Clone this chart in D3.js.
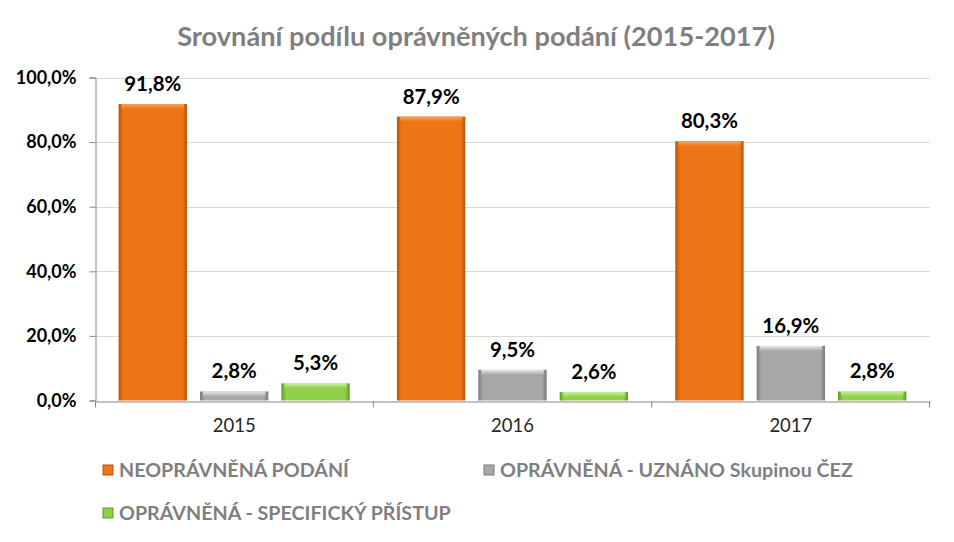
<!DOCTYPE html>
<html><head><meta charset="utf-8">
<script src="https://cdn.jsdelivr.net/npm/d3@7"></script>
<style>body{margin:0;background:#fff}svg{display:block}</style>
</head><body>
<svg id="c" width="954" height="542"></svg>
<script>
const title = "Srovnání podílu oprávněných podání (2015-2017)";
const years = ["2015", "2016", "2017"];
const seriesNames = ["NEOPRÁVNĚNÁ PODÁNÍ", "OPRÁVNĚNÁ - UZNÁNO Skupinou ČEZ", "OPRÁVNĚNÁ - SPECIFICKÝ PŘÍSTUP"];
const neopravnena = [91.8, 87.9, 80.3];
const uznano = [2.8, 9.5, 16.9];
const specificky = [5.3, 2.6, 2.8];
const yTicks = [0, 20, 40, 60, 80, 100];
const colors = [
  {base:"#ef7616", dark:"#b85408", light:"#f9a55e"},
  {base:"#a8a8a8", dark:"#7a7a7a", light:"#e8e8e8"},
  {base:"#8fd14a", dark:"#5e9c22", light:"#c8ef9c"}
];
const seriesValues = [neopravnena, uznano, specificky];

const svg = d3.select("#c");
const fmt = v => v.toFixed(1).replace(".", ",");
const font = "Lato, 'Open Sans', sans-serif";

const x0 = d3.scaleBand().domain(years).range([95, 930]).paddingInner(0).paddingOuter(0);
const x1 = d3.scaleBand().domain([0,1,2]).range([0, x0.bandwidth()]).paddingInner(0.16).paddingOuter(0.29);
const y = d3.scaleLinear().domain([0, 100]).range([400.5, 77.5]);

// defs gradients
const defs = svg.append("defs");
colors.forEach((c, i) => {
  const g = defs.append("linearGradient").attr("id", "gh" + i).attr("x1", 0).attr("x2", 1).attr("y1", 0).attr("y2", 0);
  g.append("stop").attr("offset", "0%").attr("stop-color", c.dark);
  g.append("stop").attr("offset", "7%").attr("stop-color", c.base);
  g.append("stop").attr("offset", "93%").attr("stop-color", c.base);
  g.append("stop").attr("offset", "100%").attr("stop-color", c.dark);
  const t = defs.append("linearGradient").attr("id", "gt" + i).attr("x1", 0).attr("x2", 0).attr("y1", 0).attr("y2", 1);
  t.append("stop").attr("offset", "0%").attr("stop-color", c.light);
  t.append("stop").attr("offset", "100%").attr("stop-color", c.base);
});

// title
svg.append("text").attr("x", 476).attr("y", 46).attr("text-anchor", "middle")
  .attr("font-family", font).attr("font-weight", "bold").attr("font-size", 27.2)
  .attr("fill", "#7f7f7f").text(title);

// gridlines
svg.append("g").selectAll("line").data(yTicks.filter(d => d > 0)).join("line")
  .attr("x1", 95).attr("x2", 930).attr("y1", d => Math.round(y(d)) + 0.5).attr("y2", d => Math.round(y(d)) + 0.5)
  .attr("stroke", "#d9d9d9").attr("stroke-width", 1);

// y axis
const yAxis = svg.append("g").attr("transform", "translate(95.5,0)")
  .call(d3.axisLeft(y).tickValues(yTicks).tickSize(6).tickFormat(d => fmt(d) + "%"));
yAxis.select(".domain").attr("stroke", "#868686");
yAxis.selectAll(".tick line").attr("stroke", "#868686");
yAxis.selectAll("text").attr("font-family", font).attr("font-weight", "bold").attr("font-size", 18)
  .attr("fill", "#000").attr("x", -19);

// x axis
const xAxis = svg.append("g").attr("transform", "translate(0," + (Math.round(y(0)) + 0.5) + ")")
  .call(d3.axisBottom(x0).tickSize(0).tickPadding(17));
xAxis.select(".domain").attr("stroke", "#868686");
xAxis.selectAll("text").attr("font-family", font).attr("font-size", 18.5).attr("fill", "#262626");
xAxis.selectAll(".sep").data([95.5, x0("2016"), x0("2017"), 929.5]).join("line").attr("class", "sep")
  .attr("x1", d => d).attr("x2", d => d).attr("y1", 0).attr("y2", 6).attr("stroke", "#868686");

// bars
const groups = svg.append("g").selectAll("g").data(years).join("g")
  .attr("transform", d => "translate(" + x0(d) + ",0)");
groups.each(function(yr, yi) {
  const g = d3.select(this);
  seriesValues.forEach((vals, si) => {
    const v = vals[yi];
    const bx = x1(si), bw = x1.bandwidth(), by = y(v), bh = y(0) - y(v);
    g.append("rect").attr("x", bx).attr("y", by).attr("width", bw).attr("height", bh)
      .attr("fill", "url(#gh" + si + ")");
    const th = Math.min(5, bh);
    g.append("rect").attr("x", bx + 3).attr("y", by).attr("width", bw - 6).attr("height", th)
      .attr("fill", "url(#gt" + si + ")");
    g.append("text").attr("x", bx + bw / 2).attr("y", by - 13).attr("text-anchor", "middle")
      .attr("font-family", font).attr("font-weight", "bold").attr("font-size", 20.4).attr("fill", "#000")
      .text(fmt(v) + "%");
  });
});

// legend
const legendPos = [[103, 470], [484, 470], [103, 513]];
seriesNames.forEach((n, i) => {
  const [lx, ly] = legendPos[i];
  svg.append("rect").attr("x", lx).attr("y", ly - 5).attr("width", 10).attr("height", 10)
    .attr("fill", colors[i].base).attr("stroke", colors[i].dark).attr("stroke-width", 1);
  svg.append("text").attr("x", lx + 16).attr("y", ly + 7).attr("font-family", font).attr("font-weight", "bold")
    .attr("font-size", 19.7).attr("fill", "#7f7f7f").text(n);
});
</script>
</body></html>
